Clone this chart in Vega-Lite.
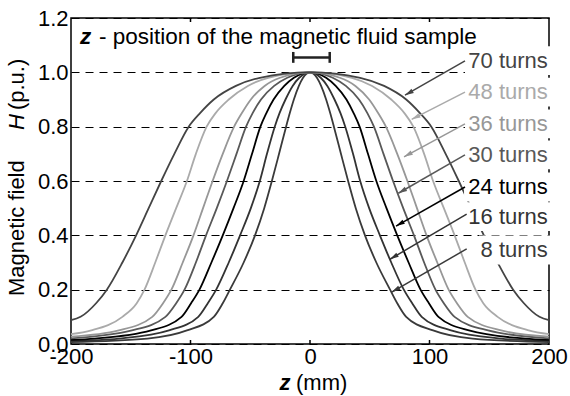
{
"$schema": "https://vega.github.io/schema/vega-lite/v6.json",
"width": 478, "height": 326,
"autosize": {"type": "none"},
"padding": {"left": 71, "top": 18, "right": 21, "bottom": 52},
"config": {"view": {"stroke": "#000", "strokeWidth": 1.5}, "font": "Liberation Sans", "text": {"font": "Liberation Sans"}},
"datasets": {
"curves": [
{"s":"8 turns","z":-200,"H":0.007},{"s":"8 turns","z":-136,"H":0.02},{"s":"8 turns","z":-103,"H":0.05},{"s":"8 turns","z":-80.5,"H":0.1},{"s":"8 turns","z":-73,"H":0.15},{"s":"8 turns","z":-67,"H":0.2},{"s":"8 turns","z":-55.5,"H":0.3},{"s":"8 turns","z":-46,"H":0.4},{"s":"8 turns","z":-38.3,"H":0.5},{"s":"8 turns","z":-31.9,"H":0.6},{"s":"8 turns","z":-25.9,"H":0.7},{"s":"8 turns","z":-20,"H":0.8},{"s":"8 turns","z":-16.9,"H":0.85},{"s":"8 turns","z":-13.5,"H":0.9},{"s":"8 turns","z":-9.3,"H":0.95},{"s":"8 turns","z":-5.8,"H":0.98},{"s":"8 turns","z":0,"H":1},{"s":"8 turns","z":5.8,"H":0.98},{"s":"8 turns","z":9.3,"H":0.95},{"s":"8 turns","z":13.5,"H":0.9},{"s":"8 turns","z":16.9,"H":0.85},{"s":"8 turns","z":20,"H":0.8},{"s":"8 turns","z":25.9,"H":0.7},{"s":"8 turns","z":31.9,"H":0.6},{"s":"8 turns","z":38.3,"H":0.5},{"s":"8 turns","z":46,"H":0.4},{"s":"8 turns","z":55.5,"H":0.3},{"s":"8 turns","z":67,"H":0.2},{"s":"8 turns","z":73,"H":0.15},{"s":"8 turns","z":80.5,"H":0.1},{"s":"8 turns","z":103,"H":0.05},{"s":"8 turns","z":136,"H":0.02},{"s":"8 turns","z":200,"H":0.007},
{"s":"16 turns","z":-200,"H":0.011},{"s":"16 turns","z":-160,"H":0.02},{"s":"16 turns","z":-118,"H":0.05},{"s":"16 turns","z":-93.5,"H":0.1},{"s":"16 turns","z":-85.5,"H":0.15},{"s":"16 turns","z":-78.5,"H":0.2},{"s":"16 turns","z":-68,"H":0.3},{"s":"16 turns","z":-58.5,"H":0.4},{"s":"16 turns","z":-49.5,"H":0.5},{"s":"16 turns","z":-42,"H":0.6},{"s":"16 turns","z":-36,"H":0.7},{"s":"16 turns","z":-29.5,"H":0.8},{"s":"16 turns","z":-25.5,"H":0.85},{"s":"16 turns","z":-20.5,"H":0.9},{"s":"16 turns","z":-14.5,"H":0.95},{"s":"16 turns","z":-9,"H":0.98},{"s":"16 turns","z":0,"H":1},{"s":"16 turns","z":9,"H":0.98},{"s":"16 turns","z":14.5,"H":0.95},{"s":"16 turns","z":20.5,"H":0.9},{"s":"16 turns","z":25.5,"H":0.85},{"s":"16 turns","z":29.5,"H":0.8},{"s":"16 turns","z":36,"H":0.7},{"s":"16 turns","z":42,"H":0.6},{"s":"16 turns","z":49.5,"H":0.5},{"s":"16 turns","z":58.5,"H":0.4},{"s":"16 turns","z":68,"H":0.3},{"s":"16 turns","z":78.5,"H":0.2},{"s":"16 turns","z":85.5,"H":0.15},{"s":"16 turns","z":93.5,"H":0.1},{"s":"16 turns","z":118,"H":0.05},{"s":"16 turns","z":160,"H":0.02},{"s":"16 turns","z":200,"H":0.011},
{"s":"24 turns","z":-200,"H":0.015},{"s":"24 turns","z":-180,"H":0.02},{"s":"24 turns","z":-133,"H":0.05},{"s":"24 turns","z":-107.5,"H":0.1},{"s":"24 turns","z":-99.5,"H":0.15},{"s":"24 turns","z":-92.5,"H":0.2},{"s":"24 turns","z":-82.5,"H":0.3},{"s":"24 turns","z":-73,"H":0.4},{"s":"24 turns","z":-64,"H":0.5},{"s":"24 turns","z":-55.5,"H":0.6},{"s":"24 turns","z":-48.5,"H":0.7},{"s":"24 turns","z":-41.5,"H":0.8},{"s":"24 turns","z":-36.5,"H":0.85},{"s":"24 turns","z":-30.5,"H":0.9},{"s":"24 turns","z":-21.5,"H":0.95},{"s":"24 turns","z":-13.5,"H":0.98},{"s":"24 turns","z":0,"H":1},{"s":"24 turns","z":13.5,"H":0.98},{"s":"24 turns","z":21.5,"H":0.95},{"s":"24 turns","z":30.5,"H":0.9},{"s":"24 turns","z":36.5,"H":0.85},{"s":"24 turns","z":41.5,"H":0.8},{"s":"24 turns","z":48.5,"H":0.7},{"s":"24 turns","z":55.5,"H":0.6},{"s":"24 turns","z":64,"H":0.5},{"s":"24 turns","z":73,"H":0.4},{"s":"24 turns","z":82.5,"H":0.3},{"s":"24 turns","z":92.5,"H":0.2},{"s":"24 turns","z":99.5,"H":0.15},{"s":"24 turns","z":107.5,"H":0.1},{"s":"24 turns","z":133,"H":0.05},{"s":"24 turns","z":180,"H":0.02},{"s":"24 turns","z":200,"H":0.015},
{"s":"30 turns","z":-200,"H":0.021},{"s":"30 turns","z":-149,"H":0.05},{"s":"30 turns","z":-121,"H":0.1},{"s":"30 turns","z":-112,"H":0.15},{"s":"30 turns","z":-105,"H":0.2},{"s":"30 turns","z":-95.5,"H":0.3},{"s":"30 turns","z":-87,"H":0.4},{"s":"30 turns","z":-78,"H":0.5},{"s":"30 turns","z":-69.5,"H":0.6},{"s":"30 turns","z":-61.5,"H":0.7},{"s":"30 turns","z":-53.5,"H":0.8},{"s":"30 turns","z":-48,"H":0.85},{"s":"30 turns","z":-41,"H":0.9},{"s":"30 turns","z":-30,"H":0.95},{"s":"30 turns","z":-19,"H":0.98},{"s":"30 turns","z":0,"H":1},{"s":"30 turns","z":19,"H":0.98},{"s":"30 turns","z":30,"H":0.95},{"s":"30 turns","z":41,"H":0.9},{"s":"30 turns","z":48,"H":0.85},{"s":"30 turns","z":53.5,"H":0.8},{"s":"30 turns","z":61.5,"H":0.7},{"s":"30 turns","z":69.5,"H":0.6},{"s":"30 turns","z":78,"H":0.5},{"s":"30 turns","z":87,"H":0.4},{"s":"30 turns","z":95.5,"H":0.3},{"s":"30 turns","z":105,"H":0.2},{"s":"30 turns","z":112,"H":0.15},{"s":"30 turns","z":121,"H":0.1},{"s":"30 turns","z":149,"H":0.05},{"s":"30 turns","z":200,"H":0.021},
{"s":"36 turns","z":-200,"H":0.027},{"s":"36 turns","z":-160,"H":0.05},{"s":"36 turns","z":-132,"H":0.1},{"s":"36 turns","z":-123,"H":0.15},{"s":"36 turns","z":-116,"H":0.2},{"s":"36 turns","z":-106.5,"H":0.3},{"s":"36 turns","z":-97.5,"H":0.4},{"s":"36 turns","z":-89.5,"H":0.5},{"s":"36 turns","z":-81.5,"H":0.6},{"s":"36 turns","z":-73,"H":0.7},{"s":"36 turns","z":-63.5,"H":0.8},{"s":"36 turns","z":-57,"H":0.85},{"s":"36 turns","z":-49.5,"H":0.9},{"s":"36 turns","z":-38,"H":0.95},{"s":"36 turns","z":-25,"H":0.98},{"s":"36 turns","z":0,"H":1},{"s":"36 turns","z":25,"H":0.98},{"s":"36 turns","z":38,"H":0.95},{"s":"36 turns","z":49.5,"H":0.9},{"s":"36 turns","z":57,"H":0.85},{"s":"36 turns","z":63.5,"H":0.8},{"s":"36 turns","z":73,"H":0.7},{"s":"36 turns","z":81.5,"H":0.6},{"s":"36 turns","z":89.5,"H":0.5},{"s":"36 turns","z":97.5,"H":0.4},{"s":"36 turns","z":106.5,"H":0.3},{"s":"36 turns","z":116,"H":0.2},{"s":"36 turns","z":123,"H":0.15},{"s":"36 turns","z":132,"H":0.1},{"s":"36 turns","z":160,"H":0.05},{"s":"36 turns","z":200,"H":0.027},
{"s":"48 turns","z":-200,"H":0.036},{"s":"48 turns","z":-183,"H":0.05},{"s":"48 turns","z":-157,"H":0.1},{"s":"48 turns","z":-145,"H":0.15},{"s":"48 turns","z":-138.5,"H":0.2},{"s":"48 turns","z":-129.5,"H":0.3},{"s":"48 turns","z":-121,"H":0.4},{"s":"48 turns","z":-112,"H":0.5},{"s":"48 turns","z":-103,"H":0.6},{"s":"48 turns","z":-95.5,"H":0.7},{"s":"48 turns","z":-86.5,"H":0.8},{"s":"48 turns","z":-79,"H":0.85},{"s":"48 turns","z":-68,"H":0.9},{"s":"48 turns","z":-52,"H":0.95},{"s":"48 turns","z":-35,"H":0.98},{"s":"48 turns","z":0,"H":1},{"s":"48 turns","z":35,"H":0.98},{"s":"48 turns","z":52,"H":0.95},{"s":"48 turns","z":68,"H":0.9},{"s":"48 turns","z":79,"H":0.85},{"s":"48 turns","z":86.5,"H":0.8},{"s":"48 turns","z":95.5,"H":0.7},{"s":"48 turns","z":103,"H":0.6},{"s":"48 turns","z":112,"H":0.5},{"s":"48 turns","z":121,"H":0.4},{"s":"48 turns","z":129.5,"H":0.3},{"s":"48 turns","z":138.5,"H":0.2},{"s":"48 turns","z":145,"H":0.15},{"s":"48 turns","z":157,"H":0.1},{"s":"48 turns","z":183,"H":0.05},{"s":"48 turns","z":200,"H":0.036},
{"s":"70 turns","z":-200,"H":0.088},{"s":"70 turns","z":-192,"H":0.1},{"s":"70 turns","z":-179,"H":0.15},{"s":"70 turns","z":-170,"H":0.2},{"s":"70 turns","z":-157,"H":0.3},{"s":"70 turns","z":-145.5,"H":0.4},{"s":"70 turns","z":-135,"H":0.5},{"s":"70 turns","z":-124.5,"H":0.6},{"s":"70 turns","z":-113.5,"H":0.7},{"s":"70 turns","z":-101.5,"H":0.8},{"s":"70 turns","z":-92,"H":0.85},{"s":"70 turns","z":-80.5,"H":0.9},{"s":"70 turns","z":-62,"H":0.95},{"s":"70 turns","z":-42,"H":0.98},{"s":"70 turns","z":0,"H":1},{"s":"70 turns","z":42,"H":0.98},{"s":"70 turns","z":62,"H":0.95},{"s":"70 turns","z":80.5,"H":0.9},{"s":"70 turns","z":92,"H":0.85},{"s":"70 turns","z":101.5,"H":0.8},{"s":"70 turns","z":113.5,"H":0.7},{"s":"70 turns","z":124.5,"H":0.6},{"s":"70 turns","z":135,"H":0.5},{"s":"70 turns","z":145.5,"H":0.4},{"s":"70 turns","z":157,"H":0.3},{"s":"70 turns","z":170,"H":0.2},{"s":"70 turns","z":179,"H":0.15},{"s":"70 turns","z":192,"H":0.1},{"s":"70 turns","z":200,"H":0.088}
],
"labels": [
{"s":"70 turns","ly":1.043,"bx":129.7,"b1":0.99,"b2":1.096,"x1":129.7,"y1":1.042,"x2":79.5,"y2":0.916},
{"s":"48 turns","ly":0.927,"bx":129.7,"b1":0.874,"b2":0.98,"x1":129.7,"y1":0.927,"x2":85.1,"y2":0.827},
{"s":"36 turns","ly":0.81,"bx":129.7,"b1":0.757,"b2":0.863,"x1":129.7,"y1":0.81,"x2":78.7,"y2":0.689},
{"s":"30 turns","ly":0.696,"bx":129.7,"b1":0.643,"b2":0.749,"x1":129.7,"y1":0.696,"x2":73.9,"y2":0.555},
{"s":"24 turns","ly":0.578,"bx":128.9,"b1":0.525,"b2":0.631,"x1":129.7,"y1":0.578,"x2":72,"y2":0.434},
{"s":"16 turns","ly":0.469,"bx":131.4,"b1":0.416,"b2":0.522,"x1":131.1,"y1":0.478,"x2":66.9,"y2":0.312},
{"s":"8 turns","ly":0.346,"bx":141.4,"b1":0.293,"b2":0.399,"x1":131.1,"y1":0.35,"x2":68.4,"y2":0.191}
],
"ticks": [{"t":-100},{"t":0},{"t":100}],
"caps": [{"c":-14},{"c":16.5}]
},
"layer": [
{
"data": {"name": "curves"},
"mark": {"type": "line", "interpolate": "monotone", "strokeWidth": 1.8},
"encoding": {
"x": {"field": "z", "type": "quantitative", "title": null, "scale": {"domain": [-200, 200], "nice": false, "zero": false},
 "axis": {"values": [-200, -100, 0, 100, 200], "labelExpr": "datum.value < 0 ? '-' + (-datum.value) : '' + datum.value", "title": null, "ticks": false, "tickSize": 0, "domain": false, "grid": false, "labelFontSize": 22, "labelColor": "#000", "labelPadding": 2, "labelFlush": false, "labelFont": "Liberation Sans"}},
"y": {"field": "H", "type": "quantitative", "title": null, "scale": {"domain": [0, 1.2], "nice": false, "zero": false},
 "axis": {"values": [0, 0.2, 0.4, 0.6, 0.8, 1, 1.2], "format": ".1f", "title": null, "ticks": false, "tickSize": 0, "domain": false, "labelFontSize": 22, "labelColor": "#000", "labelPadding": 3, "labelFont": "Liberation Sans", "grid": true, "gridDash": [8, 6], "gridColor": "#000", "gridWidth": 1, "gridOpacity": 1}},
"color": {"field": "s", "type": "nominal", "legend": null,
 "scale": {"domain": ["70 turns", "48 turns", "36 turns", "30 turns", "24 turns", "16 turns", "8 turns"], "range": ["#444444", "#aaaaaa", "#979797", "#585858", "#000000", "#333333", "#3a3a3a"]}}
}
},
{
"data": {"name": "labels"},
"mark": {"type": "rect", "fill": "#ffffff", "strokeWidth": 0},
"encoding": {"x": {"field": "bx", "type": "quantitative"}, "x2": {"datum": 201}, "y": {"field": "b1", "type": "quantitative"}, "y2": {"field": "b2"}}
},
{
"data": {"name": "labels"},
"mark": {"type": "rule", "strokeWidth": 1.5},
"encoding": {"x": {"field": "x1", "type": "quantitative"}, "y": {"field": "y1", "type": "quantitative"}, "x2": {"field": "x2"}, "y2": {"field": "y2"}, "color": {"field": "s", "type": "nominal", "legend": null}}
},
{
"data": {"name": "labels"},
"transform": [{"calculate": "atan2((datum.x2 - datum.x1) * 1.195, (datum.y2 - datum.y1) * 271.67) * 180 / PI", "as": "ang"}],
"mark": {"type": "point", "shape": "M0,0L0.6,2.2L-0.6,2.2Z", "filled": true, "opacity": 1, "size": 64, "strokeWidth": 0},
"encoding": {"x": {"field": "x2", "type": "quantitative"}, "y": {"field": "y2", "type": "quantitative"}, "angle": {"field": "ang", "type": "quantitative", "scale": null}, "color": {"field": "s", "type": "nominal", "legend": null}}
},
{
"data": {"name": "labels"},
"mark": {"type": "text", "fontSize": 22, "align": "right", "baseline": "middle"},
"encoding": {"x": {"datum": 199}, "y": {"field": "ly", "type": "quantitative"}, "text": {"field": "s"}, "color": {"field": "s", "type": "nominal", "legend": null}}
},
{
"data": {"values": [{}]},
"mark": {"type": "rule", "color": "#222222", "strokeWidth": 2.5},
"encoding": {"x": {"datum": -14}, "x2": {"datum": 16.5}, "y": {"datum": 1.055}}
},
{
"data": {"name": "caps"},
"mark": {"type": "rule", "color": "#222222", "strokeWidth": 2.5},
"encoding": {"x": {"field": "c", "type": "quantitative"}, "y": {"datum": 1.035}, "y2": {"datum": 1.075}}
},
{
"data": {"name": "ticks"},
"mark": {"type": "rule", "color": "#000000", "strokeWidth": 1.5},
"encoding": {"x": {"field": "t", "type": "quantitative"}, "y": {"datum": 0}, "y2": {"datum": 0.0147}}
},
{
"data": {"name": "ticks"},
"mark": {"type": "rule", "color": "#000000", "strokeWidth": 1.5},
"encoding": {"x": {"field": "t", "type": "quantitative"}, "y": {"datum": 1.2}, "y2": {"datum": 1.1853}}
},
{
"data": {"values": [{}]},
"mark": {"type": "text", "text": "z", "fontSize": 22.5, "fontStyle": "italic", "fontWeight": "bold", "align": "left", "baseline": "alphabetic", "color": "#000"},
"encoding": {"x": {"datum": -192.5}, "y": {"datum": 1.106}}
},
{
"data": {"values": [{}]},
"mark": {"type": "text", "text": "- position of the magnetic fluid sample", "fontSize": 22.5, "align": "left", "baseline": "alphabetic", "color": "#000"},
"encoding": {"x": {"datum": -176.5}, "y": {"datum": 1.106}}
},
{
"data": {"values": [{}]},
"mark": {"type": "text", "text": "z", "fontSize": 22, "fontStyle": "italic", "fontWeight": "bold", "align": "center", "baseline": "alphabetic", "color": "#000"},
"encoding": {"x": {"datum": -20.9}, "y": {"datum": -0.1693}}
},
{
"data": {"values": [{}]},
"mark": {"type": "text", "text": "(mm)", "fontSize": 22, "align": "left", "baseline": "alphabetic", "color": "#000"},
"encoding": {"x": {"datum": -11.7}, "y": {"datum": -0.1693}}
},
{
"data": {"values": [{}]},
"mark": {"type": "text", "text": "Magnetic field", "fontSize": 22, "angle": 270, "align": "left", "baseline": "alphabetic", "color": "#000"},
"encoding": {"x": {"datum": -239.7}, "y": {"datum": 0.1767}}
},
{
"data": {"values": [{}]},
"mark": {"type": "text", "text": "H", "fontSize": 22, "fontStyle": "italic", "angle": 270, "align": "left", "baseline": "alphabetic", "color": "#000"},
"encoding": {"x": {"datum": -239.7}, "y": {"datum": 0.7876}}
},
{
"data": {"values": [{}]},
"mark": {"type": "text", "text": "(p.u.)", "fontSize": 22, "angle": 270, "align": "left", "baseline": "alphabetic", "color": "#000"},
"encoding": {"x": {"datum": -239.7}, "y": {"datum": 0.861}}
}
]
}
